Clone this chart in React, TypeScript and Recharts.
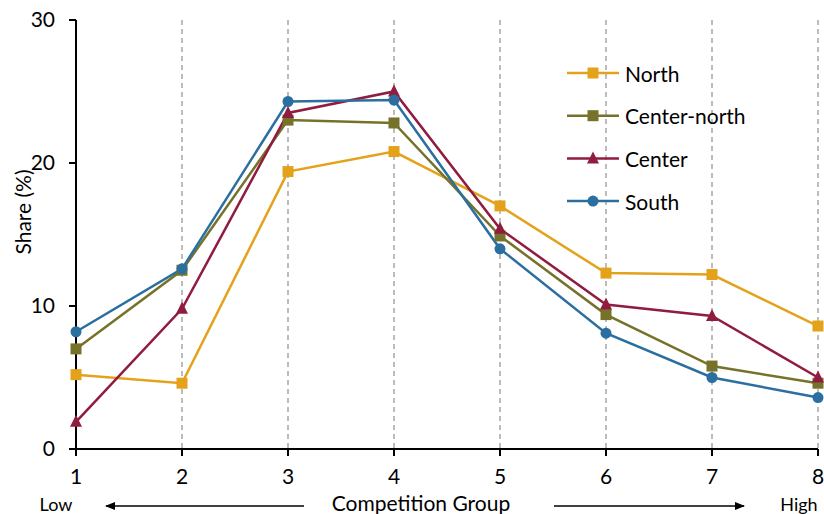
import React from "react";
import {
  LineChart, Line, XAxis, YAxis, CartesianGrid, Customized,
} from "recharts";

const groups = [1, 2, 3, 4, 5, 6, 7, 8];
const north = [5.2, 4.6, 19.4, 20.8, 17.0, 12.3, 12.2, 8.6];
const centerNorth = [7.0, 12.5, 23.0, 22.8, 14.9, 9.4, 5.8, 4.6];
const center = [1.9, 9.8, 23.5, 25.0, 15.4, 10.1, 9.3, 5.0];
const south = [8.2, 12.6, 24.3, 24.4, 14.0, 8.1, 5.0, 3.6];
const yTicks = [0, 10, 20, 30];

const FONT = "Lato, 'Open Sans', sans-serif";

type Shape = "square" | "triangle" | "circle";

const series: { key: string; name: string; color: string; shape: Shape; values: number[] }[] = [
  { key: "north", name: "North", color: "#E3A21A", shape: "square", values: north },
  { key: "centerNorth", name: "Center-north", color: "#76722A", shape: "square", values: centerNorth },
  { key: "center", name: "Center", color: "#901C3F", shape: "triangle", values: center },
  { key: "south", name: "South", color: "#2A6FA0", shape: "circle", values: south },
];

const data = groups.map((g, i) => {
  const row: { [k: string]: number } = { group: g };
  series.forEach((s) => { row[s.key] = s.values[i]; });
  return row;
});

const Marker = ({ cx, cy, color, shape }: { cx: number; cy: number; color: string; shape: Shape }) => {
  if (shape === "square") {
    return <rect x={cx - 5.5} y={cy - 5.5} width={11} height={11} fill={color} />;
  }
  if (shape === "triangle") {
    return <polygon points={`${cx},${cy - 7} ${cx + 6},${cy + 5} ${cx - 6},${cy + 5}`} fill={color} />;
  }
  return <circle cx={cx} cy={cy} r={5.5} fill={color} />;
};

const makeDot = (color: string, shape: Shape) => (props: any) => {
  const { cx, cy, index } = props;
  if (cx == null || cy == null) return <g key={`d-${index}`} />;
  return <Marker key={`d-${index}`} cx={cx} cy={cy} color={color} shape={shape} />;
};

const Annotations = () => (
  <g fontFamily={FONT} fill="#000">
    <defs>
      <marker id="arrowHead" markerWidth="10" markerHeight="8" refX="9" refY="4" orient="auto" markerUnits="userSpaceOnUse">
        <path d="M0,0 L10,4 L0,8 Z" fill="#000" />
      </marker>
    </defs>
    <text x={22} y={212} fontSize={21} textAnchor="middle" dominantBaseline="central" transform="rotate(-90 22 212)">
      Share (%)
    </text>
    <text x={421} y={502} fontSize={21} textAnchor="middle" dominantBaseline="central">Competition Group</text>
    <text x={56} y={504} fontSize={18} textAnchor="middle" dominantBaseline="central">Low</text>
    <text x={799} y={504} fontSize={18} textAnchor="middle" dominantBaseline="central">High</text>
    <line x1={304} y1={506} x2={106} y2={506} stroke="#000" strokeWidth={1.5} markerEnd="url(#arrowHead)" />
    <line x1={554} y1={506} x2={744} y2={506} stroke="#000" strokeWidth={1.5} markerEnd="url(#arrowHead)" />
    {series.map((s, i) => {
      const y = 73 + i * 42.7;
      return (
        <g key={s.key}>
          <line x1={567} y1={y} x2={619} y2={y} stroke={s.color} strokeWidth={2.5} />
          <Marker cx={593} cy={y} color={s.color} shape={s.shape} />
          <text x={625} y={y} fontSize={21} dominantBaseline="central">{s.name}</text>
        </g>
      );
    })}
  </g>
);

export default function App() {
  return (
    <div style={{ position: "absolute", left: 0, top: 0, width: 824, height: 514, background: "#fff" }}>
      <LineChart width={824} height={514} data={data} margin={{ top: 20, right: 6, bottom: 0, left: 0 }}>
        <CartesianGrid horizontal={false} stroke="#A6A6A6" strokeWidth={1.5} strokeDasharray="5 4" />
        <XAxis
          dataKey="group"
          type="number"
          domain={[1, 8]}
          ticks={groups}
          height={65}
          axisLine={{ stroke: "#000", strokeWidth: 2 }}
          tickLine={{ stroke: "#000", strokeWidth: 2 }}
          tickSize={7}
          tickMargin={13}
          tick={{ fill: "#000", fontSize: 21, fontFamily: FONT }}
        />
        <YAxis
          type="number"
          domain={[0, 30]}
          ticks={yTicks}
          width={76}
          axisLine={{ stroke: "#000", strokeWidth: 2 }}
          tickLine={{ stroke: "#000", strokeWidth: 2 }}
          tickSize={7}
          tickMargin={14}
          tick={{ fill: "#000", fontSize: 21, fontFamily: FONT }}
        />
        {series.map((s) => (
          <Line
            key={s.key}
            dataKey={s.key}
            name={s.name}
            type="linear"
            stroke={s.color}
            strokeWidth={2.5}
            dot={makeDot(s.color, s.shape)}
            activeDot={false}
            isAnimationActive={false}
          />
        ))}
        <Customized component={Annotations} />
      </LineChart>
    </div>
  );
}
